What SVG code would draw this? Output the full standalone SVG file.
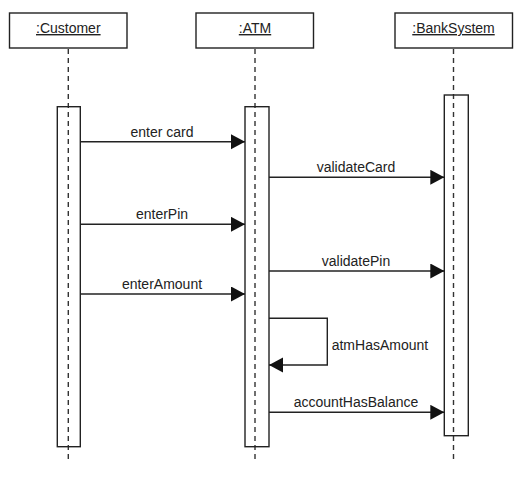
<svg xmlns="http://www.w3.org/2000/svg" width="526" height="487" viewBox="0 0 526 487">
<style>
.box{fill:#fff;stroke:#222;stroke-width:1.4}
.act{fill:none;stroke:#222;stroke-width:1.4}
.life{stroke:#333;stroke-width:1.4;stroke-dasharray:5 4;fill:none}
.msg{stroke:#222;stroke-width:1.4;fill:none;marker-end:url(#arr)}
.hdr{font-family:"Liberation Sans",Arial,sans-serif;font-size:14px;fill:#222;text-anchor:middle;text-decoration:underline}
.lbl{font-family:"Liberation Sans",Arial,sans-serif;font-size:14px;fill:#222;text-anchor:middle}
</style>
<defs>
<marker id="arr" markerUnits="userSpaceOnUse" markerWidth="16" markerHeight="16" refX="14" refY="7.5" orient="auto">
<path d="M0,0 L14,7.5 L0,15 Z" fill="#111"/>
</marker>
</defs>
<rect width="526" height="487" fill="#fff"/>
<g id="customer">
<rect class="box" x="9.5" y="13" width="117.5" height="35"/>
<text class="hdr" x="68.3" y="33">:Customer</text>
<line class="life" x1="68.3" y1="49" x2="68.3" y2="463"/>
<rect class="act" x="57.3" y="106.7" width="23" height="340"/>
</g>
<g id="atm">
<rect class="box" x="196" y="13" width="117.5" height="35"/>
<text class="hdr" x="255" y="33">:ATM</text>
<line class="life" x1="255" y1="49" x2="255" y2="463"/>
<rect class="act" x="245" y="106.7" width="24" height="340"/>
</g>
<g id="bank">
<rect class="box" x="395" y="13" width="117.5" height="35"/>
<text class="hdr" x="453.5" y="33">:BankSystem</text>
<line class="life" x1="453.5" y1="49" x2="453.5" y2="463"/>
<rect class="act" x="444.3" y="95" width="24" height="340.7"/>
</g>
<g id="connectors">
<path class="msg" d="M80.3,141.7 H245"/>
<text class="lbl" x="162" y="136.7">enter card</text>
<path class="msg" d="M80.3,224.3 H245"/>
<text class="lbl" x="162" y="219.3">enterPin</text>
<path class="msg" d="M80.3,294 H245"/>
<text class="lbl" x="162" y="289.3">enterAmount</text>
<path class="msg" d="M269,177.3 H444.3"/>
<text class="lbl" x="356" y="172.3">validateCard</text>
<path class="msg" d="M269,271 H444.3"/>
<text class="lbl" x="356" y="265.7">validatePin</text>
<path class="msg" d="M269,318.3 H327.3 V365 H269"/>
<text class="lbl" x="331.7" y="350" style="text-anchor:start">atmHasAmount</text>
<path class="msg" d="M269,412.3 H444.3"/>
<text class="lbl" x="356" y="406.7">accountHasBalance</text>
</g>
</svg>
